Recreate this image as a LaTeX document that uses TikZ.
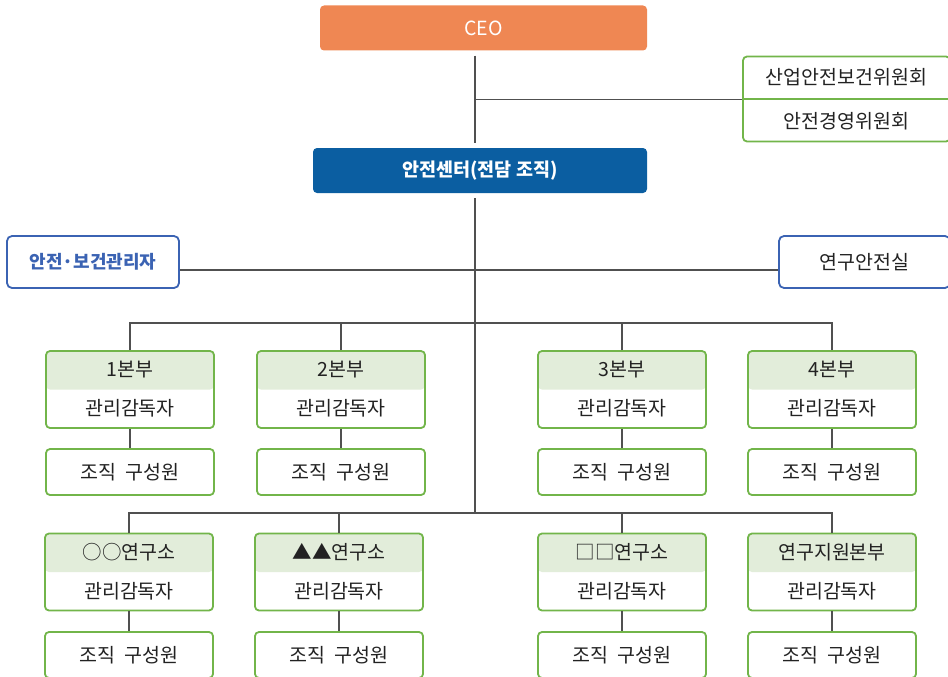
\documentclass[tikz,border=0pt]{standalone}
\usepackage{fontspec}
\setmainfont{Noto Sans CJK KR}
\definecolor{ceoorange}{HTML}{EF8753}
\definecolor{centerblue}{HTML}{0B5EA1}
\definecolor{mgrblue}{HTML}{3B63B3}
\definecolor{boxgreen}{HTML}{72B54A}
\definecolor{hdrgreen}{HTML}{E2EDDA}
\definecolor{linegray}{HTML}{505050}
\definecolor{txt}{HTML}{222222}
\begin{document}
\begin{tikzpicture}[x=1pt,y=-1pt,
  conn/.style={draw=linegray,line width=1.1pt},
  topbox/.style={rounded corners=4pt,minimum height=45pt,inner sep=0pt,text=white,font=\fontsize{19.5}{22}\selectfont},
  sidebox/.style={draw=mgrblue,line width=1.8pt,rounded corners=5pt,fill=white,minimum width=172pt,minimum height=52pt,inner sep=0pt,font=\fontsize{19.5}{22}\selectfont},
  unitbox/.style={draw=boxgreen,line width=1.8pt,rounded corners=4pt,fill=white,minimum width=168pt,minimum height=77pt,inner sep=0pt,align=center,text=txt,font=\fontsize{19.5}{39}\selectfont,
    path picture={\fill[hdrgreen] (path picture bounding box.north west) rectangle ([yshift=-38.5pt]path picture bounding box.north east);}},
  memberbox/.style={draw=boxgreen,line width=1.8pt,rounded corners=4pt,fill=white,minimum width=168pt,minimum height=46pt,inner sep=0pt,text=txt,font=\fontsize{19.5}{22}\selectfont},
  commbox/.style={draw=boxgreen,line width=1.8pt,rounded corners=4pt,fill=white,minimum width=207pt,minimum height=85pt,inner sep=0pt,align=center,text=txt,font=\fontsize{19.5}{44}\selectfont,
    path picture={\draw[boxgreen,line width=1.8pt] (path picture bounding box.west) -- (path picture bounding box.east);}}
]
\useasboundingbox (0,0) rectangle (948,677);

% top
\node[topbox,fill=ceoorange,minimum width=327pt] (ceo) at (483.5,28) {CEO};
\node[topbox,fill=centerblue,minimum width=334pt,font=\fontsize{18.5}{22}\selectfont\bfseries] (center) at (480,170.5) {안전센터(전담 조직)};
\node[commbox] (comm) at (846.5,99) {산업안전보건위원회\\안전경영위원회};

\coordinate (spine) at (475,0);
\coordinate (commjoin) at (475,99.5);
\coordinate (midline) at (0,270);
\coordinate (bus1) at (475,323);
\coordinate (bus2) at (475,513);

\node[sidebox,text=mgrblue,font=\fontsize{18}{22}\selectfont\bfseries] (mgr) at (93,262) {안전·보건관리자};
\node[sidebox,text=txt,minimum width=171pt] (lab) at (864.5,262) {연구안전실};

% row 1
\node[unitbox] (u1) at (130,389.5) {1본부\\관리감독자};
\node[unitbox] (u2) at (341,389.5) {2본부\\관리감독자};
\node[unitbox] (u3) at (622,389.5) {3본부\\관리감독자};
\node[unitbox] (u4) at (832,389.5) {4본부\\관리감독자};
\node[memberbox] (m1) at (130,472) {조직\hspace{0.5em}구성원};
\node[memberbox] (m2) at (341,472) {조직\hspace{0.5em}구성원};
\node[memberbox] (m3) at (622,472) {조직\hspace{0.5em}구성원};
\node[memberbox] (m4) at (832,472) {조직\hspace{0.5em}구성원};

% row 2
\node[unitbox] (r1) at (129,572) {○○연구소\\관리감독자};
\node[unitbox] (r2) at (339,572) {▲▲연구소\\관리감독자};
\node[unitbox] (r3) at (622,572) {□□연구소\\관리감독자};
\node[unitbox] (r4) at (832,572) {연구지원본부\\관리감독자};
\node[memberbox] (n1) at (129,655) {조직\hspace{0.5em}구성원};
\node[memberbox] (n2) at (339,655) {조직\hspace{0.5em}구성원};
\node[memberbox] (n3) at (622,655) {조직\hspace{0.5em}구성원};
\node[memberbox] (n4) at (832,655) {조직\hspace{0.5em}구성원};

% connectors
\draw[conn,shorten <=5pt,shorten >=5pt] (ceo.south -| spine) -- (center.north -| spine);
\draw[conn] (commjoin) -- (comm.west |- commjoin);
\draw[conn,shorten <=5pt] (center.south -| spine) -- (bus2);
\draw[conn] (mgr.east |- midline) -- (lab.west |- midline);

\draw[conn] (u1.north) |- (bus1) -| (u4.north);
\draw[conn] (u2.north) -- (u2.north |- bus1);
\draw[conn] (u3.north) -- (u3.north |- bus1);
\draw[conn] (u1) -- (m1);
\draw[conn] (u2) -- (m2);
\draw[conn] (u3) -- (m3);
\draw[conn] (u4) -- (m4);

\draw[conn] (r1.north) |- (bus2) -| (r4.north);
\draw[conn] (r2.north) -- (r2.north |- bus2);
\draw[conn] (r3.north) -- (r3.north |- bus2);
\draw[conn] (r1) -- (n1);
\draw[conn] (r2) -- (n2);
\draw[conn] (r3) -- (n3);
\draw[conn] (r4) -- (n4);
\end{tikzpicture}
\end{document}
